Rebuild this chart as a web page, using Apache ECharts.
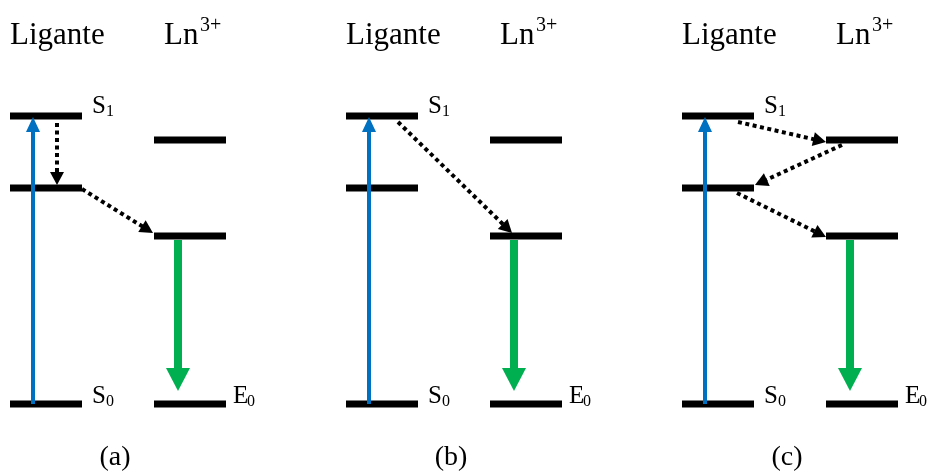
<!DOCTYPE html>
<html><head><meta charset="utf-8">
<script src="https://cdn.jsdelivr.net/npm/echarts@6/dist/echarts.min.js"></script>
<style>html,body{margin:0;padding:0;background:#fff}#c{width:936px;height:473px}</style>
</head><body><div id="c"></div>
<script>
// ---------------- data ----------------
const panelLabels = ['(a)', '(b)', '(c)'];
const columnTitles = ['Ligante', 'Ln'];
const lnCharge = '3+';
// energies (arbitrary units, ground state = 0)
const ligandLevelNames = ['S0', 'T1', 'S1'];
const ligandEnergies = [0, 216, 288];
const lnLevelNames = ['E0', 'E1', 'E2'];
const lnEnergies = [0, 168, 264];
// energy-transfer paths per panel: [fromColumn, fromLevel, toColumn, toLevel]
const transfersA = [['L', 'S1', 'L', 'T1'], ['L', 'T1', 'Ln', 'E1']];
const transfersB = [['L', 'S1', 'Ln', 'E1']];
const transfersC = [['L', 'S1', 'Ln', 'E2'], ['Ln', 'E2', 'L', 'T1'], ['L', 'T1', 'Ln', 'E1']];
const absorption = ['S0', 'S1'];
const emission = ['E1', 'E0'];

// ---------------- layout ----------------
const FONT = 'Liberation Serif';
const panelOffset = [0, 336, 672];
const colX = { L: [10, 82], Ln: [154, 226] };
const BAR = 7;
// x positions (relative to panel) and pixel nudges for transfer arrows
const transferLayout = [
  [[57, 7, 57, -3], [82, 1, 153, -3]],
  [[62, 6, 176, -3]],
  [[66, 6, 154, 2], [170, 5, 83, -3], [65, 5, 154, 1]]
];
const transfers = [transfersA, transfersB, transfersC];

function energyOf(col, name) {
  return col === 'L' ? ligandEnergies[ligandLevelNames.indexOf(name)]
                     : lnEnergies[lnLevelNames.indexOf(name)];
}

const levelData = [];
panelOffset.forEach(off => {
  ligandEnergies.forEach(e => levelData.push([off + colX.L[0], off + colX.L[1], e]));
  lnEnergies.forEach(e => levelData.push([off + colX.Ln[0], off + colX.Ln[1], e]));
});

// arrows: [x1, e1, x2, e2, dy1, dy2, kind]
const arrowData = [];
panelOffset.forEach((off, p) => {
  arrowData.push([off + 33, energyOf('L', absorption[0]), off + 33, energyOf('L', absorption[1]), 0, 1, 1]);
  arrowData.push([off + 178, energyOf('Ln', emission[0]), off + 178, energyOf('Ln', emission[1]), 4, -13, 2]);
  transfers[p].forEach((t, i) => {
    const l = transferLayout[p][i];
    arrowData.push([off + l[0], energyOf(t[0], t[1]), off + l[2], energyOf(t[2], t[3]), l[1], l[3], 0]);
  });
});

const arrowStyles = [
  { color: '#000', width: 4, dash: [4, 3.5], headL: 13, headW: 14 },
  { color: '#0070C0', width: 4, dash: null, headL: 15, headW: 14 },
  { color: '#00B050', width: 8, dash: null, headL: 23, headW: 24 }
];

// labels: [x, energy, main, sub, dyBaseline]
const labelData = [];
panelOffset.forEach(off => {
  labelData.push([off + 92, energyOf('L', 'S1'), 'S', '1', -1]);
  labelData.push([off + 92, energyOf('L', 'S0'), 'S', '0', 1]);
  labelData.push([off + 233, energyOf('Ln', 'E0'), 'E', '0', 1]);
});

function txt(x, yBase, text, fs, align) {
  return { type: 'text', style: { x: x, y: yBase - 0.3375 * fs, text: text, fontFamily: FONT, fontSize: fs,
    fill: '#000', align: align || 'left', verticalAlign: 'middle' } };
}

const chart = echarts.init(document.getElementById('c'));
chart.setOption({
  animation: false,
  grid: { left: 0, right: 0, top: 0, bottom: 0 },
  xAxis: { type: 'value', min: 0, max: 936, show: false },
  yAxis: { type: 'value', min: -69, max: 404, show: false },
  series: [
    {
      type: 'custom', data: levelData, encode: { x: [0, 1], y: 2 }, silent: true,
      renderItem(params, api) {
        const a = api.coord([api.value(0), api.value(2)]);
        const b = api.coord([api.value(1), api.value(2)]);
        return { type: 'rect', shape: { x: a[0], y: a[1] - BAR / 2, width: b[0] - a[0], height: BAR }, style: { fill: '#000' } };
      }
    },
    {
      type: 'custom', data: arrowData, encode: { x: [0, 2], y: [1, 3] }, silent: true, z: 3,
      renderItem(params, api) {
        const s = arrowStyles[api.value(6)];
        const p1 = api.coord([api.value(0), api.value(1)]);
        const p2 = api.coord([api.value(2), api.value(3)]);
        p1[1] += api.value(4); p2[1] += api.value(5);
        const dx = p2[0] - p1[0], dy = p2[1] - p1[1];
        const len = Math.sqrt(dx * dx + dy * dy);
        const ux = dx / len, uy = dy / len;
        const bx = p2[0] - ux * s.headL, by = p2[1] - uy * s.headL;
        const nx = -uy * s.headW / 2, ny = ux * s.headW / 2;
        return {
          type: 'group', children: [
            { type: 'line', shape: { x1: p1[0], y1: p1[1], x2: bx + ux, y2: by + uy },
              style: { stroke: s.color, lineWidth: s.width, lineDash: s.dash, lineCap: 'butt' } },
            { type: 'polygon', shape: { points: [[p2[0], p2[1]], [bx + nx, by + ny], [bx - nx, by - ny]] },
              style: { fill: s.color } }
          ]
        };
      }
    },
    {
      type: 'custom', data: labelData, encode: { x: 0, y: 1 }, silent: true,
      renderItem(params, api) {
        const p = api.coord([api.value(0), api.value(1)]);
        const yb = p[1] + api.value(4);
        return { type: 'group', children: [
          txt(p[0], yb, api.value(2), 25),
          txt(p[0] + 14, yb + 2, api.value(3), 16)
        ] };
      }
    },
    {
      type: 'custom', data: panelOffset.map((o, i) => [o, i]), encode: { x: 0 }, silent: true,
      renderItem(params, api) {
        const off = api.value(0);
        const i = api.value(1);
        const top = api.coord([off, 404 - 46]);
        const bot = api.coord([off, 404 - 467]);
        const x0 = top[0];
        return { type: 'group', children: [
          txt(x0 + 10, top[1], columnTitles[0], 31),
          txt(x0 + 164, top[1], columnTitles[1], 31),
          txt(x0 + 200, top[1] - 14, lnCharge, 20),
          txt(x0 + 115, bot[1], panelLabels[i], 28, 'center')
        ] };
      }
    }
  ]
});
</script></body></html>
